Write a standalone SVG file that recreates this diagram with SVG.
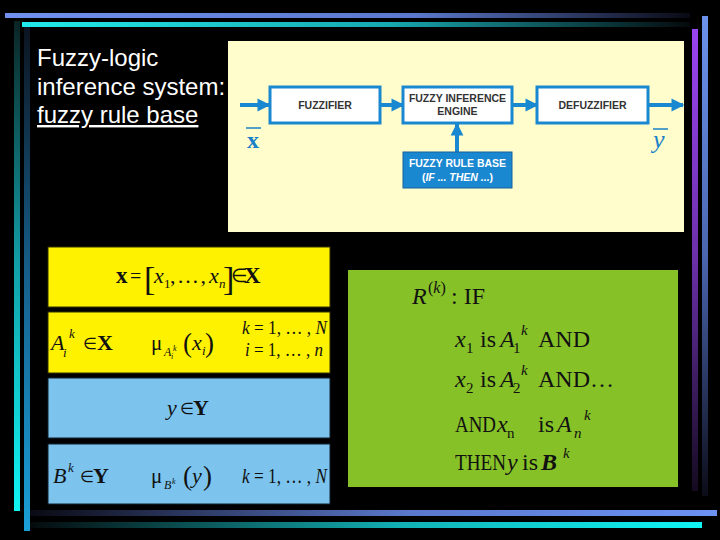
<svg xmlns="http://www.w3.org/2000/svg" width="720" height="540" viewBox="0 0 720 540">
<defs>
<linearGradient id="gTopBlue" x1="0" y1="0" x2="1" y2="0"><stop offset="0" stop-color="#7090ee"/><stop offset="0.6" stop-color="#5a78cc"/><stop offset="1" stop-color="#0a0a14"/></linearGradient>
<linearGradient id="gTopCyan" x1="0" y1="0" x2="1" y2="0"><stop offset="0" stop-color="#22eaea"/><stop offset="0.55" stop-color="#17a8b0"/><stop offset="1" stop-color="#050a0c"/></linearGradient>
<linearGradient id="gLeftCyan" x1="0" y1="0" x2="0" y2="1"><stop offset="0" stop-color="#0a2424"/><stop offset="0.5" stop-color="#12a0a8"/><stop offset="1" stop-color="#10f4f4"/></linearGradient>
<linearGradient id="gLeftBlue" x1="0" y1="0" x2="0" y2="1"><stop offset="0" stop-color="#0c1420"/><stop offset="0.5" stop-color="#16608c"/><stop offset="1" stop-color="#1aa0d8"/></linearGradient>
<linearGradient id="gBotBlue" x1="0" y1="0" x2="1" y2="0"><stop offset="0" stop-color="#0a0a14"/><stop offset="0.55" stop-color="#5a78cc"/><stop offset="1" stop-color="#6c92f4"/></linearGradient>
<linearGradient id="gBotCyan" x1="0" y1="0" x2="1" y2="0"><stop offset="0" stop-color="#050a0c"/><stop offset="0.55" stop-color="#12b0b4"/><stop offset="1" stop-color="#10f4f4"/></linearGradient>
<linearGradient id="gRightPurple" x1="0" y1="0" x2="0" y2="1"><stop offset="0" stop-color="#9a44f2"/><stop offset="0.5" stop-color="#6a30a8"/><stop offset="1" stop-color="#140a20"/></linearGradient>
<linearGradient id="gRightBlue" x1="0" y1="0" x2="0" y2="1"><stop offset="0" stop-color="#6c92ec"/><stop offset="0.5" stop-color="#4a66b0"/><stop offset="1" stop-color="#0c0c18"/></linearGradient>
<marker id="ah" viewBox="0 0 10 10" refX="9" refY="5" markerWidth="3.2" markerHeight="3.4" orient="auto" markerUnits="strokeWidth"><path d="M0,0 L10,5 L0,10 z" fill="#1a88d0"/></marker>
<style>
.bx{fill:#ffffff;stroke:#1a88d0;stroke-width:3}
.lbl{font-family:"Liberation Sans",Arial,sans-serif;font-weight:bold;font-size:10.5px;fill:#333333;text-anchor:middle}
.con{stroke:#1a88d0;stroke-width:4;fill:none;marker-end:url(#ah)}
.m{font-family:"Liberation Serif","Times New Roman",serif;fill:#111111}
.it{font-style:italic}
.b{font-weight:bold}
</style>
</defs>
<rect width="720" height="540" fill="#000000"/>
<!-- decorative frame bars -->
<rect x="5" y="13" width="685" height="5" fill="url(#gTopBlue)"/>
<rect x="22" y="22" width="668" height="5" fill="url(#gTopCyan)"/>
<rect x="14" y="21" width="6" height="490" fill="url(#gLeftCyan)"/>
<rect x="24" y="27" width="6" height="504" fill="url(#gLeftBlue)"/>
<rect x="30" y="510" width="687" height="6" fill="url(#gBotBlue)"/>
<rect x="30" y="522" width="672" height="6" fill="url(#gBotCyan)"/>
<rect x="692" y="29" width="6" height="462" fill="url(#gRightPurple)"/>
<rect x="702" y="16" width="6" height="480" fill="url(#gRightBlue)"/>

<!-- title -->
<g id="title" font-family="'Liberation Sans',Arial,sans-serif" font-size="24" fill="#ffffff">
<text x="37" y="66">Fuzzy-logic</text>
<text x="37" y="95">inference system:</text>
<text x="37" y="123" text-decoration="underline">fuzzy rule base</text>
</g>

<!-- block diagram panel -->
<rect id="panel" x="228" y="41" width="456" height="191" fill="#fffdcc"/>
<g id="connectors">
<line class="con" x1="240" y1="105" x2="269" y2="105"/>
<line class="con" x1="380" y1="105" x2="403" y2="105"/>
<line class="con" x1="512" y1="105" x2="537" y2="105"/>
<line class="con" x1="648" y1="105" x2="683" y2="105"/>
<line class="con" x1="457" y1="152" x2="457" y2="124"/>
</g>
<g id="fuzzifier"><rect class="bx" x="270" y="87" width="110" height="36"/><text class="lbl" x="325" y="109">FUZZIFIER</text></g>
<g id="engine"><rect class="bx" x="403" y="87" width="109" height="36"/><text class="lbl" x="457.5" y="102">FUZZY INFERENCE</text><text class="lbl" x="457.5" y="115">ENGINE</text></g>
<g id="defuzzifier"><rect class="bx" x="537" y="87" width="111" height="36"/><text class="lbl" x="592.5" y="109">DEFUZZIFIER</text></g>
<g id="rulebase"><rect x="403" y="152" width="109" height="36" fill="#1a88d0" stroke="#16609a" stroke-width="1"/><text class="lbl" x="457.5" y="167" style="fill:#ffffff">FUZZY RULE BASE</text><text class="lbl" x="457.5" y="181" style="fill:#ffffff">(<tspan font-style="italic">IF ... THEN ...</tspan>)</text></g>
<g id="xbar"><line x1="246" y1="128" x2="261" y2="128" stroke="#1a80c8" stroke-width="1.5"/><text x="247" y="148" font-family="'Liberation Serif',serif" font-weight="bold" font-size="24" fill="#1a80c8">x</text></g>
<g id="ybar"><line x1="653" y1="129" x2="668" y2="129" stroke="#1a80c8" stroke-width="1.5"/><text x="653" y="148" font-family="'Liberation Serif',serif" font-style="italic" font-size="26" fill="#1a80c8">y</text></g>

<!-- yellow box 1 -->
<g id="box-x">
<rect x="48" y="247" width="282" height="60" fill="#fff200" stroke="#333300" stroke-width="1"/>
<text class="m b" x="116" y="283" font-size="23">x</text>
<text class="m" x="130" y="283" font-size="20">=</text>
<text class="m" x="144" y="290" font-size="34">[</text>
<text class="m it" x="154" y="283" font-size="22">x</text>
<text class="m" x="164" y="288" font-size="13">1</text>
<text class="m" x="170" y="283" font-size="22" textLength="36" lengthAdjust="spacing">, … ,</text>
<text class="m it" x="209" y="283" font-size="22">x</text>
<text class="m it" x="219" y="288" font-size="13">n</text>
<text class="m" x="223" y="290" font-size="34">]</text>
<text class="m" x="231" y="282" font-size="19">∈</text>
<text class="m b" x="244" y="283" font-size="23">X</text>
</g>

<!-- yellow box 2 -->
<g id="box-A">
<rect x="48" y="312" width="282" height="61" fill="#fff200" stroke="#333300" stroke-width="1"/>
<text class="m it" x="51" y="350" font-size="22">A</text>
<text class="m it" x="63" y="357" font-size="13">i</text>
<text class="m it" x="69" y="338" font-size="13">k</text>
<text class="m" x="83" y="349" font-size="16">∈</text>
<text class="m b" x="97" y="350" font-size="22">X</text>
<text class="m" x="151" y="350" font-size="21">μ</text>
<text class="m it" x="164" y="356" font-size="12">A</text>
<text class="m it" x="171" y="359" font-size="8">i</text>
<text class="m it" x="173" y="351" font-size="8">k</text>
<text class="m" x="183" y="352" font-size="27">(</text>
<text class="m it" x="192" y="350" font-size="22">x</text>
<text class="m it" x="202" y="355" font-size="13">i</text>
<text class="m" x="205" y="352" font-size="27">)</text>
<text class="m" x="242" y="334" font-size="19" textLength="85" lengthAdjust="spacingAndGlyphs"><tspan class="it">k</tspan> = 1, … , <tspan class="it">N</tspan></text>
<text class="m" x="245" y="356" font-size="19" textLength="78" lengthAdjust="spacingAndGlyphs"><tspan class="it">i</tspan> = 1, … , <tspan class="it">n</tspan></text>
</g>

<!-- blue box 3 -->
<g id="box-y">
<rect x="48" y="378" width="282" height="60" fill="#7cc4ee" stroke="#102030" stroke-width="1"/>
<text class="m it" x="167" y="415" font-size="22">y</text>
<text class="m" x="180" y="414" font-size="16">∈</text>
<text class="m b" x="193" y="415" font-size="22">Y</text>
</g>

<!-- blue box 4 -->
<g id="box-B">
<rect x="48" y="444" width="282" height="60" fill="#7cc4ee" stroke="#102030" stroke-width="1"/>
<text class="m it" x="53" y="483" font-size="22">B</text>
<text class="m it" x="68" y="472" font-size="13">k</text>
<text class="m" x="80" y="482" font-size="16">∈</text>
<text class="m b" x="93" y="483" font-size="22">Y</text>
<text class="m" x="151" y="483" font-size="21">μ</text>
<text class="m it" x="164" y="489" font-size="12">B</text>
<text class="m it" x="172" y="484" font-size="8">k</text>
<text class="m" x="183" y="485" font-size="27">(</text>
<text class="m it" x="192" y="483" font-size="22">y</text>
<text class="m" x="203" y="485" font-size="27">)</text>
<text class="m" x="242" y="483" font-size="20" textLength="85" lengthAdjust="spacingAndGlyphs"><tspan class="it">k</tspan> = 1, … , <tspan class="it">N</tspan></text>
</g>

<!-- green rule box -->
<g id="rule">
<rect x="348" y="270" width="330" height="217" fill="#87c128"/>
<text class="m it" x="412" y="304" font-size="24">R</text>
<text class="m" x="428" y="293" font-size="16">(<tspan class="it">k</tspan>)</text>
<text class="m" x="451" y="304" font-size="24">: IF</text>

<text class="m it" x="455" y="347" font-size="24">x</text>
<text class="m" x="466" y="353" font-size="15">1</text>
<text class="m" x="480" y="347" font-size="24">is</text>
<text class="m it" x="500" y="347" font-size="24">A</text>
<text class="m" x="513" y="353" font-size="15">1</text>
<text class="m it" x="521" y="335" font-size="15">k</text>
<text class="m" x="538" y="347" font-size="24">AND</text>

<text class="m it" x="455" y="387" font-size="24">x</text>
<text class="m" x="466" y="393" font-size="15">2</text>
<text class="m" x="480" y="387" font-size="24">is</text>
<text class="m it" x="500" y="387" font-size="24">A</text>
<text class="m" x="513" y="393" font-size="15">2</text>
<text class="m it" x="521" y="375" font-size="15">k</text>
<text class="m" x="538" y="387" font-size="24">AND…</text>

<text class="m" x="455" y="432" font-size="24" textLength="41" lengthAdjust="spacingAndGlyphs">AND</text>
<text class="m it" x="497" y="432" font-size="24">x</text>
<text class="m" x="507" y="438" font-size="15">n</text>
<text class="m" x="538" y="432" font-size="24">is</text>
<text class="m it" x="557" y="432" font-size="24">A</text>
<text class="m it" x="574" y="438" font-size="15">n</text>
<text class="m it" x="584" y="420" font-size="15">k</text>

<text class="m" x="455" y="470" font-size="24" textLength="51" lengthAdjust="spacingAndGlyphs">THEN</text>
<text class="m it" x="507" y="470" font-size="24">y</text>
<text class="m" x="522" y="470" font-size="24">is</text>
<text class="m it b" x="541" y="470" font-size="24">B</text>
<text class="m it" x="563" y="458" font-size="15">k</text>
</g>
</svg>
